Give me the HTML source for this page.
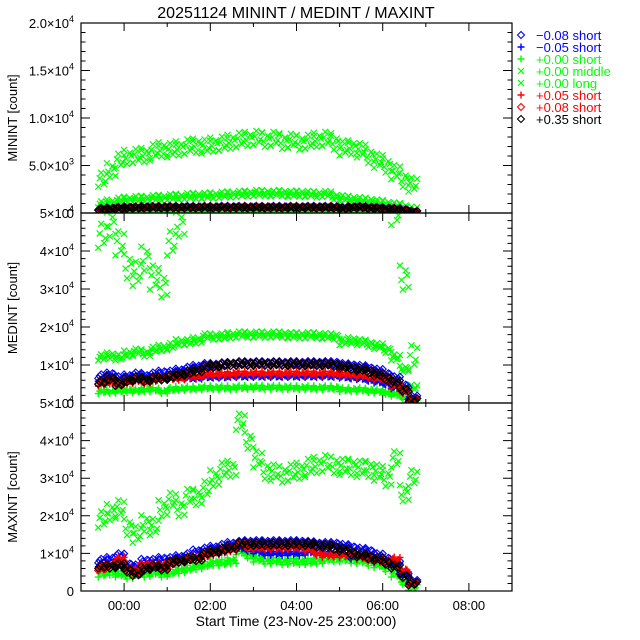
<!DOCTYPE html>
<html><head><meta charset="utf-8"><style>
html,body{margin:0;padding:0;background:#fff}
svg{display:block}
text{font-family:"Liberation Sans",sans-serif;}
</style></head><body>
<svg id="chart" width="640" height="640" viewBox="0 0 640 640" xmlns="http://www.w3.org/2000/svg">
<rect width="640" height="640" fill="#fff"/>
<text x="296" y="18" font-size="16" text-anchor="middle">20251124 MININT / MEDINT / MAXINT</text>
<g id="plots"></g>
<text x="296" y="626" font-size="14" text-anchor="middle">Start Time (23-Nov-25 23:00:00)</text>
</svg>
<script>
const times=[-0.5,-0.3,-0.1,0.1,0.3,0.5,0.7,0.9,1.1,1.3,1.5,1.7,1.9,2.1,2.3,2.5,2.7,2.9,3.1,3.3,3.5,3.7,3.9,4.1,4.3,4.5,4.7,4.9,5.1,5.3,5.5,5.7,5.9,6.1,6.3,6.5,6.7];
const xTickLabels=["00:00","02:00","04:00","06:00","08:00"];
const xTickHours=[0,2,4,6,8];
const legendLabels=["\u22120.08 short","\u22120.05 short","+0.00 short","+0.00 middle","+0.00 long","+0.05 short","+0.08 short","+0.35 short"];
// MININT
const minLong=[3500,4500,5500,5900,6000,6100,6500,6700,6600,6800,7000,7100,7000,7200,7300,7500,7700,7800,7900,7700,7800,7500,7600,7400,7500,7700,7800,7400,6800,6900,6600,6000,5500,5000,4300,3500,3000];
const minMid=[900,1100,1300,1400,1450,1500,1550,1600,1650,1700,1750,1800,1800,1850,1900,1950,2000,2050,2100,2100,2050,2100,2000,2050,2000,1950,2000,1700,1550,1450,1350,1250,1100,950,800,600,350];
const minGrnP=[150,180,200,200,200,200,200,200,200,200,200,200,200,200,200,200,200,200,200,200,200,200,200,200,200,200,200,200,150,200,200,200,180,150,120,80,40];
const minBluD=[450,500,550,600,600,650,650,650,650,650,650,650,650,650,650,650,650,650,650,650,650,650,650,650,650,650,650,650,550,650,650,600,550,500,450,350,150];
const minBluP=[400,450,500,550,550,600,600,600,600,600,600,600,600,600,600,600,600,600,600,600,600,600,600,600,600,600,600,600,500,600,600,550,500,450,400,300,150];
const minRedP=[450,500,550,600,650,650,650,650,650,650,650,650,650,650,650,650,650,650,650,650,650,650,650,650,650,650,650,650,500,650,650,600,550,500,450,350,150];
const minRedD=[400,450,500,550,550,600,600,600,600,600,600,600,600,600,600,600,600,600,600,600,600,600,600,600,600,600,600,600,500,600,600,550,500,450,400,300,150];
const minBlkD=[400,450,500,550,550,580,580,580,580,580,580,580,580,580,580,580,580,580,580,580,580,580,580,580,580,580,580,580,480,580,580,530,480,430,380,280,120];
// MEDINT
const medLong=[44000,47000,42000,36000,34000,38000,33000,31000,42000,47000,60000,60000,60000,60000,60000,60000,60000,60000,60000,60000,60000,60000,60000,60000,60000,60000,60000,60000,60000,60000,60000,60000,60000,60000,50000,33000,12000];
const medMid=[12000,12500,12000,13000,13500,13000,14000,14500,15000,16000,16000,16500,17500,17500,17500,17800,18000,18000,18000,18000,18000,18000,17800,17800,17800,17800,17600,17500,16000,16500,16000,15500,15000,14000,12000,9000,4000];
const medGrnP=[3000,3000,3200,3300,3200,3500,3500,3000,3600,3800,3800,3900,4000,4000,4000,4000,4100,4100,4100,4100,4100,4100,4000,4000,4000,4000,4000,4000,3500,3500,3500,3300,3100,2800,2300,1500,300];
const medBluD=[7000,7500,6500,7000,7500,7000,7500,8000,8000,8500,9000,9500,10000,10000,10200,10300,10500,10500,10500,10500,10500,10500,10500,10500,10500,10500,10500,10500,10000,9800,9500,9000,8500,7500,6500,4500,1500];
const medBluP=[6000,6000,5500,6000,6000,6000,6500,6500,6500,6500,6500,6500,6800,6800,6800,7000,7000,7000,7000,7000,7000,7000,7000,7000,7000,7000,7000,7000,6800,6600,6400,6000,5500,5000,4000,3000,800];
const medRedP=[5000,5500,5000,5500,6000,5500,6000,6500,6500,6500,7000,7000,7500,7500,7500,7700,7800,7800,7800,7800,7800,7800,7800,7800,7800,7800,7800,7800,7500,7500,7200,7000,6500,6000,4500,3000,800];
const medRedD=[5500,6500,5000,6000,6500,6000,6500,6500,7000,7500,8000,8500,9500,9700,10000,10200,10300,10300,10300,10300,10300,10300,10200,10200,10200,10200,10200,10000,9500,9200,8800,8300,7500,6500,5500,3500,800];
const medBlkD=[5500,6500,5000,6000,6500,6000,6500,6500,7000,7500,8000,8500,9500,9700,10000,10200,10300,10300,10300,10300,10300,10300,10200,10200,10200,10200,10200,10000,9500,9200,8800,8300,7500,6500,5500,3500,800];
// MAXINT
const maxLong=[19000,21000,22000,17000,15000,18000,17000,22000,24000,22000,25000,25000,27000,30000,32000,32500,45000,40000,35000,32000,31500,31000,31500,32000,33000,33500,34000,33500,33000,33000,32500,32500,31500,30000,35000,26000,30000];
const maxGrnP=[4500,5000,4500,4000,4500,4500,5000,4500,5000,5500,6000,6500,7000,7500,7500,8000,10500,9500,8500,8000,8000,7800,7800,7800,7800,8000,8500,8500,8500,8200,8000,7500,7000,6000,4500,2500,1000];
const maxBluD=[8000,8500,9500,7000,6500,8000,8000,8500,8500,9000,9500,10500,11000,11500,12000,12500,12800,13000,13000,13000,13000,13000,13000,13000,12800,12500,12500,12500,12000,11500,11000,10500,9500,8500,7500,5000,2500];
const maxBluP=[7000,7000,6500,6000,6000,6500,7000,7000,7500,8000,8500,9000,9500,10000,10500,11000,11500,11000,10500,10000,10000,10000,10000,10000,10500,10000,10000,10000,9500,9000,9000,8500,8000,7500,7000,4500,2000];
const maxRedP=[6500,7000,8500,6000,5500,7000,7000,7000,7500,8000,8500,9000,9500,10000,10500,11000,12500,11500,11500,11500,11500,11500,11500,11500,11000,10000,9500,9500,9500,9500,9000,8500,8000,8000,8500,5500,2000];
const maxRedD=[6000,6500,7500,5500,4800,6500,6500,6500,7500,8000,8500,8500,10000,10500,11000,11500,12500,12500,12500,12500,12500,12500,12500,12500,12500,12000,12000,11500,11000,10000,9500,9000,8500,7500,6500,4000,2000];
const maxBlkD=[6500,6500,7000,5500,4500,6000,6500,6000,7500,8000,8500,8500,10000,10500,11000,11500,12500,12500,12500,12500,12500,12500,12500,12500,12500,12000,12000,11500,11000,10000,9500,9000,8500,7500,6500,4000,2000];

const NS="http://www.w3.org/2000/svg";
const X0=81,X1=512,TMIN=-1,TMAX=9;
function xScale(t){return X0+(t-TMIN)/(TMAX-TMIN)*(X1-X0);}
const plots=document.getElementById('plots');
function mk(tag,attrs,parent){const e=document.createElementNS(NS,tag);for(const k in attrs)e.setAttribute(k,attrs[k]);(parent||plots).appendChild(e);return e;}

// series: [values, color, marker type, band spread px (style)]
const panels=[
 {name:'minint',top:23,bot:213,ymax:20000,major:5000,minor:1000,title:'MININT [count]',
  labels:['0','5.0\u00d710|3','1.0\u00d710|4','1.5\u00d710|4','2.0\u00d710|4'],
  series:[[minLong,'#00ff00','x',7],[minMid,'#00ff00','x',3],[minGrnP,'#00ff00','+',1],[minBluD,'#0000ff','d',1],[minBluP,'#0000ff','+',1],[minRedP,'#ff0000','+',1],[minRedD,'#ff0000','d',1],[minBlkD,'#000000','d',1]]},
 {name:'medint',top:213,bot:403,ymax:50000,major:10000,minor:2000,title:'MEDINT [count]',
  labels:['0','1\u00d710|4','2\u00d710|4','3\u00d710|4','4\u00d710|4','5\u00d710|4'],
  series:[[medLong,'#00ff00','x',12],[medMid,'#00ff00','x',3],[medGrnP,'#00ff00','+',2],[medBluD,'#0000ff','d',2],[medBluP,'#0000ff','+',1],[medRedP,'#ff0000','+',2],[medRedD,'#ff0000','d',2],[medBlkD,'#000000','d',2]]},
 {name:'maxint',top:403,bot:591,ymax:50000,major:10000,minor:2000,title:'MAXINT [count]',
  labels:['0','1\u00d710|4','2\u00d710|4','3\u00d710|4','4\u00d710|4','5\u00d710|4'],
  series:[[maxLong,'#00ff00','x',8],[maxGrnP,'#00ff00','+',3],[maxBluD,'#0000ff','d',2],[maxBluP,'#0000ff','+',2],[maxRedP,'#ff0000','+',2],[maxRedD,'#ff0000','d',2],[maxBlkD,'#000000','d',2]]}
];

function marker(g,type,cx,cy,color){
  let e;
  if(type==='d'){e=mk('path',{d:`M${cx} ${cy-3.5}L${cx+3.5} ${cy}L${cx} ${cy+3.5}L${cx-3.5} ${cy}Z`,fill:'none',stroke:color,'stroke-width':1.1},g);}
  else if(type==='+'){e=mk('path',{d:`M${cx-3.5} ${cy}H${cx+3.5}M${cx} ${cy-3.5}V${cy+3.5}`,stroke:color,'stroke-width':1.4},g);}
  else {e=mk('path',{d:`M${cx-3} ${cy-3}L${cx+3} ${cy+3}M${cx-3} ${cy+3}L${cx+3} ${cy-3}`,stroke:color,'stroke-width':1.2},g);}
  return e;
}
const offsets=[[-4.3,-1],[-1.4,1],[1.4,-0.6],[4.3,0.8],[-2.8,0.2],[2.8,-0.2]];

panels.forEach((p,pi)=>{
  const yScale=v=>p.bot-(v/p.ymax)*(p.bot-p.top);
  const cp=mk('clipPath',{id:'clip'+pi});
  mk('rect',{x:X0,y:p.top,width:X1-X0,height:p.bot-p.top},cp);
  const g=mk('g',{'clip-path':`url(#clip${pi})`});
  
  
  p.series.forEach((s,si)=>{
    const [vals,color,type,spread]=s;
    const sg=mk('g',{},g);
    
    
    vals.forEach((v,i)=>{
      const cx=xScale(times[i]),cy=yScale(v);
      offsets.forEach((o,k)=>{
        const m=marker(sg,type,cx+o[0],cy+o[1]*spread*((i%2)?1:-1),color);
        
        
      });
    });
  });
  const fr=mk('rect',{x:X0,y:p.top,width:X1-X0,height:p.bot-p.top,fill:'none',stroke:'#000','stroke-width':1.2});
  
  
  for(let v=0;v<=p.ymax+0.1;v+=p.minor){
    const y=yScale(v);const isMaj=Math.abs(v/p.major-Math.round(v/p.major))<1e-6;const L=isMaj?9:4.5;
    mk('path',{d:`M${X0} ${y}H${X0+L}M${X1} ${y}H${X1-L}`,stroke:'#000','stroke-width':1});
  }
  p.labels.forEach((lab,k)=>{
    const y=yScale(k*p.major);
    const t=mk('text',{x:74,y:y+5,'font-size':13,'text-anchor':'end'});
    
    
    const parts=lab.split('|');
    t.appendChild(document.createTextNode(parts[0]));
    if(parts[1]){const sp=mk('tspan',{'font-size':9,dy:-6},t);sp.textContent=parts[1];}
  });
  for(let h=-1;h<=9;h++){
    const x=xScale(h);const L=(h%2===0)?8:4;
    mk('path',{d:`M${x} ${p.bot}V${p.bot-L}M${x} ${p.top}V${p.top+L}`,stroke:'#000','stroke-width':1});
  }
  const yt=mk('text',{x:0,y:0,'font-size':13,'text-anchor':'middle',transform:`translate(17 ${(p.top+p.bot)/2}) rotate(-90)`});
  
  
  yt.textContent=p.title;
});
xTickHours.forEach((h,k)=>{
  const t=mk('text',{x:xScale(h),y:610,'font-size':13,'text-anchor':'middle'});
  
  
  t.textContent=xTickLabels[k];
});
const legSyms=[['d','#0000ff'],['+','#0000ff'],['+','#00ff00'],['x','#00ff00'],['x','#00ff00'],['+','#ff0000'],['d','#ff0000'],['d','#000000']];
const lg=mk('g',{});


legendLabels.forEach((lab,i)=>{
  const y=35+i*12;
  const e=mk('g',{},lg);
  
  
  marker(e,legSyms[i][0],521,y,legSyms[i][1]);
  const t=mk('text',{x:536,y:y+5,'font-size':13,fill:legSyms[i][1]},e);
  t.textContent=lab;
});
</script>
</body></html>
